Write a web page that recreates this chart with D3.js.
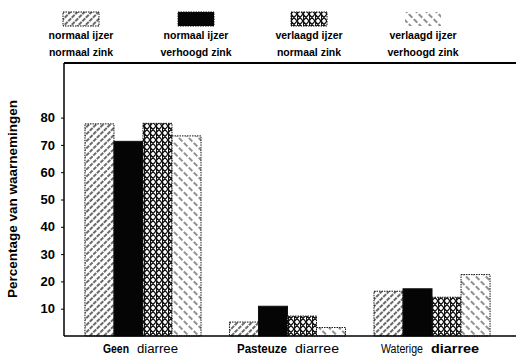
<!DOCTYPE html>
<html>
<head>
<meta charset="utf-8">
<script src="https://cdn.jsdelivr.net/npm/d3@7"></script>
<style>
  body { margin: 0; background: #fff; }
  svg { display: block; font-family: "Liberation Sans", Arial, sans-serif; }
</style>
</head>
<body>
<svg id="chart" width="516" height="361"></svg>
<script>
// groups along the x axis (bold part / normal part of the label)
var groups = ["Geen", "Pasteuze", "Waterige"];
var groupLabels = [
  [{t: "Geen", b: true, w: 26}, {t: "diarree", b: false, w: 41}],
  [{t: "Pasteuze", b: true, w: 50}, {t: "diarree", b: false, w: 44}],
  [{t: "Waterige", b: false, w: 42}, {t: "diarree", b: true, w: 48}]
];
var series = ["nn", "nv", "vn", "vv"];
var seriesLine1 = ["normaal ijzer", "normaal ijzer", "verlaagd ijzer", "verlaagd ijzer"];
var seriesLine2 = ["normaal zink", "verhoogd zink", "normaal zink", "verhoogd zink"];
// percentage per group, one array per series
var valuesNN = [77.7, 5.1, 16.4];
var valuesNV = [71.3, 10.9, 17.3];
var valuesVN = [77.9, 7.3, 14.2];
var valuesVV = [73.3, 3.1, 22.5];
var yTicks = [10, 20, 30, 40, 50, 60, 70, 80];

var allValues = [valuesNN, valuesNV, valuesVN, valuesVV];

var svg = d3.select("#chart");
var mLeft = 64, mTop = 63, mBottom = 336;

var x0 = d3.scaleBand().domain(groups).range([mLeft, 511]).paddingInner(0.197).paddingOuter(0.145);
var x1 = d3.scaleBand().domain(series).range([0, x0.bandwidth()]).padding(0);
var y = d3.scaleLinear().domain([0, 100]).range([mBottom, mTop]);

// fill patterns
var defs = svg.append("defs");
function linePattern(id, angle, size, sw, dash, color){
  var p = defs.append("pattern").attr("id", id)
    .attr("patternUnits", "userSpaceOnUse")
    .attr("width", size).attr("height", size)
    .attr("patternTransform", "rotate(" + angle + ")");
  p.append("rect").attr("width", size).attr("height", size).attr("fill", "#fff");
  p.append("line").attr("x1", 1).attr("x2", 1).attr("y1", 0).attr("y2", size)
    .attr("stroke", color).attr("stroke-width", sw).attr("stroke-dasharray", dash);
}
linePattern("pNN", 45, 5, 1.3, "4,1", "#1a1a1a");
linePattern("pVV", -45, 7, 1, "5,2", "#222");

var pc = defs.append("pattern").attr("id", "pVN")
  .attr("patternUnits", "userSpaceOnUse").attr("width", 6).attr("height", 7);
pc.append("rect").attr("width", 6).attr("height", 7).attr("fill", "#fff");
pc.append("path").attr("d", "M0,0L6,7M6,0L0,7M0.5,0L0.5,7")
  .attr("stroke", "#111").attr("stroke-width", 1.2);

var fills = {nn: "url(#pNN)", nv: "#050505", vn: "url(#pVN)", vv: "url(#pVV)"};

// bars
var g = svg.append("g");
series.forEach(function(s, i){
  g.selectAll(".bar-" + s)
    .data(groups.map(function(grp, j){ return {group: grp, value: allValues[i][j]}; }))
    .enter().append("rect")
    .attr("class", "bar-" + s)
    .attr("x", function(d){ return x0(d.group) + x1(s); })
    .attr("width", x1.bandwidth())
    .attr("y", function(d){ return y(d.value); })
    .attr("height", function(d){ return y(0) - y(d.value); })
    .attr("fill", fills[s])
    .attr("stroke", "#111")
    .attr("stroke-width", 1)
    .attr("stroke-dasharray", s === "nv" ? null : "1.5,1");
});

// frame
svg.append("line").attr("x1", mLeft).attr("x2", 516).attr("y1", mTop).attr("y2", mTop)
  .attr("stroke", "#000").attr("stroke-width", 2);
svg.append("line").attr("x1", mLeft).attr("x2", 516).attr("y1", mBottom).attr("y2", mBottom)
  .attr("stroke", "#000").attr("stroke-width", 1.5);

// y axis
var yAxis = svg.append("g").attr("transform", "translate(" + mLeft + ",0)")
  .call(d3.axisLeft(y).tickValues(yTicks).tickSize(3).tickPadding(6).tickSizeOuter(0));
yAxis.select(".domain").attr("d", "M0," + mTop + "V" + mBottom).attr("stroke-width", 1.5);
yAxis.selectAll("text").attr("font-size", 13).attr("font-weight", "bold")
  .attr("font-family", "Liberation Sans, Arial, sans-serif").attr("fill", "#000");

svg.append("text")
  .attr("transform", "translate(17,199) rotate(-90)")
  .attr("text-anchor", "middle")
  .attr("font-size", 12.5).attr("font-weight", "bold")
  .attr("textLength", 198).attr("lengthAdjust", "spacingAndGlyphs")
  .text("Percentage van waarnemingen");

// x labels
var xStarts = [103, 237, 381];
groups.forEach(function(grp, j){
  var parts = groupLabels[j];
  var gap = 8;
  var sx = xStarts[j];
  parts.forEach(function(p, k){
    svg.append("text")
      .attr("x", sx).attr("y", 353)
      .attr("font-size", p.b ? 13.5 : 12.5)
      .attr("font-weight", p.b ? "bold" : "normal")
      .attr("textLength", p.w).attr("lengthAdjust", "spacingAndGlyphs")
      .text(p.t);
    sx += p.w + gap;
  });
});

// legend
var legendX = [81, 196, 309, 423];
series.forEach(function(s, i){
  var lg = svg.append("g").attr("transform", "translate(" + legendX[i] + ",0)");
  lg.append("rect").attr("x", -18).attr("y", 12).attr("width", 36).attr("height", 14)
    .attr("fill", fills[s])
    .attr("stroke", s === "vv" ? "none" : "#111").attr("stroke-dasharray", "1.5,1");
  lg.append("text").attr("y", 39).attr("text-anchor", "middle")
    .attr("font-size", 10.5).attr("font-weight", "bold").text(seriesLine1[i]);
  lg.append("text").attr("y", 56).attr("text-anchor", "middle")
    .attr("font-size", 10.5).attr("font-weight", "bold").text(seriesLine2[i]);
});
</script>
</body>
</html>
